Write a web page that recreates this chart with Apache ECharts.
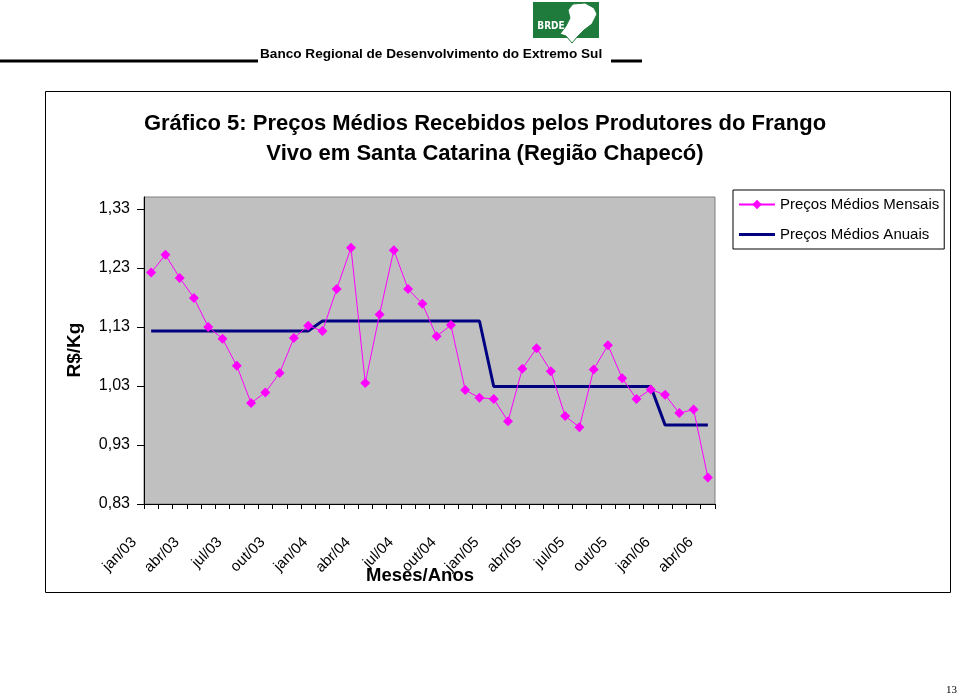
<!DOCTYPE html>
<html>
<head>
<meta charset="utf-8">
<script src="https://cdn.jsdelivr.net/npm/echarts@6/dist/echarts.min.js"></script>
<style>
html,body{margin:0;padding:0;background:#fff;}
#chart{width:959px;height:695px;}
</style>
</head>
<body>
<div id="chart"></div>
<script>
var categories = [
  'jan/03','fev/03','mar/03','abr/03','mai/03','jun/03','jul/03','ago/03','set/03','out/03','nov/03','dez/03',
  'jan/04','fev/04','mar/04','abr/04','mai/04','jun/04','jul/04','ago/04','set/04','out/04','nov/04','dez/04',
  'jan/05','fev/05','mar/05','abr/05','mai/05','jun/05','jul/05','ago/05','set/05','out/05','nov/05','dez/05',
  'jan/06','fev/06','mar/06','abr/06'
];
var mensais = [
  1.222,1.252,1.213,1.179,1.130,1.110,1.064,1.001,1.019,1.052,1.111,1.132,
  1.123,1.194,1.264,1.035,1.151,1.260,1.194,1.169,1.114,1.133,1.023,1.010,
  1.008,0.970,1.059,1.094,1.055,0.979,0.960,1.058,1.099,1.043,1.008,1.024,
  1.015,0.984,0.990,0.875
];
var anuais = [
  1.123,1.123,1.123,1.123,1.123,1.123,1.123,1.123,1.123,1.123,1.123,1.123,
  1.140,1.140,1.140,1.140,1.140,1.140,1.140,1.140,1.140,1.140,1.140,1.140,
  1.029,1.029,1.029,1.029,1.029,1.029,1.029,1.029,1.029,1.029,1.029,1.029,
  0.964,0.964,0.964,0.964
];
var yTicks = [0.83, 0.93, 1.03, 1.13, 1.23, 1.33];

var FONT = 'Arial, "Liberation Sans", sans-serif';
var chart = echarts.init(document.getElementById('chart'), null, {renderer:'canvas'});
var option = {
  backgroundColor: '#ffffff',
  animation: false,
  textStyle: {fontFamily: FONT},
  grid: {
    left: 144, right: 244, top: 197, bottom: 191,
    show: true, backgroundColor: '#c0c0c0', borderColor: '#808080', borderWidth: 1,
    containLabel: false
  },
  legend: {
    left: 733, top: 190, orient: 'vertical',
    width: 205,
    backgroundColor: '#ffffff',
    borderColor: '#000', borderWidth: 1,
    padding: [7, 5, 7, 5],
    itemGap: 15, itemWidth: 36, itemHeight: 12,
    symbolKeepAspect: true,
    textStyle: {fontSize: 15, color: '#000', fontFamily: FONT},
    data: [
      {name: 'Preços Médios Mensais'},
      {name: 'Preços Médios Anuais', icon: 'path://M0,0H36V3H0Z', itemStyle: {color: '#000080'}}
    ]
  },
  xAxis: {
    type: 'category',
    data: categories,
    boundaryGap: true,
    axisLine: {lineStyle: {color: '#000', width: 1}},
    axisTick: {show: true, interval: 0, length: 5, lineStyle: {color: '#000'}},
    axisLabel: {
      interval: 2, rotate: 45, fontSize: 15, color: '#000', margin: 19,
      padding: [0, 24, 0, 0],
      fontFamily: FONT
    },
    splitLine: {show: false}
  },
  yAxis: {
    type: 'value',
    min: 0.83, max: 1.35, interval: 0.1,
    axisLine: {show: true, lineStyle: {color: '#000', width: 1}},
    axisTick: {show: true, inside: false, length: 7, lineStyle: {color: '#000'}, customValues: yTicks},
    axisLabel: {
      fontSize: 16, color: '#000', margin: 14,
      customValues: yTicks,
      formatter: function (v) { return v.toFixed(2).replace('.', ','); }
    },
    splitLine: {show: false}
  },
  series: [
    {
      name: 'Preços Médios Mensais',
      type: 'line',
      data: mensais,
      symbol: 'diamond', symbolSize: 10, showAllSymbol: true,
      lineStyle: {color: '#ff00ff', width: 1},
      itemStyle: {color: '#ff00ff'},
      z: 3
    },
    {
      name: 'Preços Médios Anuais',
      type: 'line',
      data: anuais,
      symbol: 'none',
      lineStyle: {color: '#000080', width: 3},
      itemStyle: {color: '#000080'},
      z: 2
    }
  ],
  graphic: [
    {type: 'rect', shape: {x: 45.5, y: 91.5, width: 905, height: 501}, style: {fill: 'none', stroke: '#000', lineWidth: 1}, z: -10, silent: true},
    {type: 'text', style: {text: 'Gráfico 5: Preços Médios Recebidos pelos Produtores do Frango', x: 485, y: 124, align: 'center', verticalAlign: 'middle', font: 'bold 22px ' + FONT, fill: '#000'}},
    {type: 'text', style: {text: 'Vivo em Santa Catarina (Região Chapecó)', x: 485, y: 154, align: 'center', verticalAlign: 'middle', font: 'bold 22px ' + FONT, fill: '#000'}},
    {type: 'text', rotation: Math.PI / 2, x: 75, y: 350, style: {text: 'R$/Kg', x: 0, y: 0, align: 'center', verticalAlign: 'middle', font: 'bold 19px ' + FONT, fill: '#000'}},
    {type: 'text', style: {text: 'Meses/Anos', x: 420, y: 576, align: 'center', verticalAlign: 'middle', font: 'bold 18.5px ' + FONT, fill: '#000'}},
    {type: 'text', style: {text: 'Banco Regional de Desenvolvimento do Extremo Sul', x: 260, y: 54, align: 'left', verticalAlign: 'middle', font: 'bold 13.6px ' + FONT, fill: '#000'}},
    {type: 'line', shape: {x1: 0, y1: 61, x2: 258, y2: 61}, style: {stroke: '#000', lineWidth: 3}},
    {type: 'line', shape: {x1: 611, y1: 61, x2: 642, y2: 61}, style: {stroke: '#000', lineWidth: 3}},
    {type: 'rect', shape: {x: 533, y: 2, width: 66, height: 36}, style: {fill: '#1e7b3c'}},
    {type: 'polygon', shape: {points: [[573,4],[585,3],[594,8],[597,14],[592,24],[584,30],[578,36],[572,43],[566,36],[560,34],[566,26],[570,18],[568,10]]}, style: {fill: '#ffffff', stroke: '#1e7b3c', lineWidth: 1}},
    {type: 'text', style: {text: 'BRDE', x: 551, y: 26, align: 'center', verticalAlign: 'middle', font: 'bold 10px "DejaVu Sans Condensed", Arial, sans-serif', fill: '#ffffff'}},
    {type: 'text', style: {text: '13', x: 957, y: 690, align: 'right', verticalAlign: 'middle', font: '11px "Liberation Serif", "Times New Roman", serif', fill: '#000'}}
  ]
};
chart.setOption(option);
</script>
</body>
</html>
